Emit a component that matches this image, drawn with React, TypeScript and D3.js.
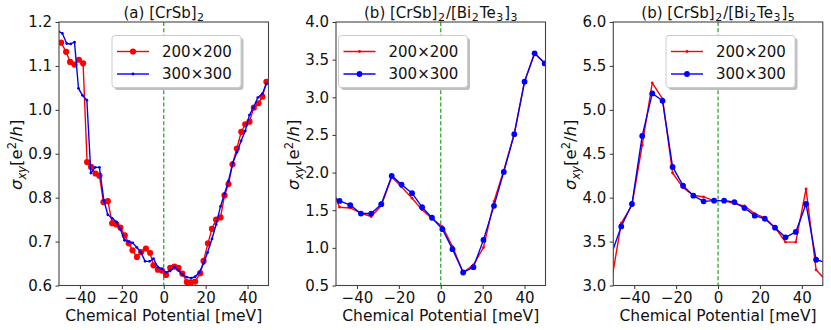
import React, { useEffect, useRef } from 'react';
import * as d3 from 'd3';

// (a) [CrSb]2
const potA200 = [-49.0, -46.6, -44.7, -42.6, -40.5, -38.5, -36.6, -34.7, -32.6, -30.7, -28.8, -26.7, -24.6, -22.6, -20.7, -18.6, -16.7, -14.9, -12.8, -10.8, -8.5, -6.5, -4.9, -2.8, -0.9, 1.1, 3.1, 5.1, 7.0, 8.9, 11.0, 12.9, 15.0, 17.4, 19.0, 21.1, 23.0, 25.0, 27.1, 29.0, 30.9, 32.8, 34.9, 37.0, 38.9, 40.9, 43.0, 45.2, 47.1, 49.0];
const sigA200 = [1.153, 1.132, 1.109, 1.103, 1.114, 1.106, 0.881, 0.870, 0.855, 0.850, 0.790, 0.792, 0.742, 0.739, 0.732, 0.714, 0.696, 0.680, 0.665, 0.676, 0.684, 0.674, 0.646, 0.636, 0.634, 0.624, 0.640, 0.643, 0.640, 0.627, 0.608, 0.607, 0.609, 0.628, 0.656, 0.696, 0.729, 0.750, 0.755, 0.805, 0.831, 0.876, 0.912, 0.950, 0.967, 0.973, 1.005, 1.015, 1.030, 1.064];
const potA300 = [-50.4, -48.4, -46.3, -44.4, -42.6, -40.7, -38.8, -36.7, -34.8, -32.7, -30.7, -28.6, -26.7, -24.6, -22.6, -20.7, -18.7, -16.7, -14.8, -12.9, -10.9, -8.9, -6.8, -4.9, -2.8, -0.9, 1.1, 3.0, 5.1, 7.0, 9.1, 11.0, 13.1, 15.0, 17.0, 19.0, 20.9, 23.0, 25.0, 27.1, 29.0, 30.9, 33.0, 35.0, 36.9, 38.9, 40.9, 42.8, 44.9, 47.0, 49.0];
const sigA300 = [1.179, 1.174, 1.151, 1.150, 1.154, 1.049, 1.033, 1.022, 0.856, 0.869, 0.869, 0.794, 0.761, 0.753, 0.745, 0.728, 0.703, 0.700, 0.697, 0.687, 0.676, 0.655, 0.655, 0.661, 0.642, 0.638, 0.630, 0.633, 0.642, 0.634, 0.624, 0.619, 0.617, 0.620, 0.630, 0.650, 0.675, 0.706, 0.739, 0.780, 0.809, 0.838, 0.880, 0.904, 0.929, 0.952, 0.988, 1.005, 1.028, 1.036, 1.059];

// (b) [CrSb]2/[Bi2Te3]3
const potB = [-53.2, -48.3, -43.2, -38.1, -33.2, -28.4, -23.4, -18.7, -13.7, -8.9, -4.2, 0.8, 5.6, 10.7, 15.6, 20.4, 25.4, 30.1, 35.1, 40.0, 44.8, 49.6];
const sigB200 = [1.87, 1.54, 1.53, 1.46, 1.416, 1.56, 1.94, 1.81, 1.66, 1.505, 1.39, 1.283, 1.018, 0.673, 0.775, 1.005, 1.615, 2.03, 2.52, 3.21, 3.584, 3.46];
const sigB300 = [1.713, 1.624, 1.567, 1.456, 1.456, 1.58, 1.956, 1.84, 1.726, 1.54, 1.40, 1.248, 0.983, 0.673, 0.744, 1.106, 1.558, 2.009, 2.51, 3.208, 3.584, 3.45];

// (b) [CrSb]2/[Bi2Te3]5
const potC = [-51.1, -46.2, -41.1, -36.2, -31.4, -26.5, -21.7, -16.7, -11.8, -6.9, -1.9, 2.9, 7.8, 12.6, 17.5, 22.3, 27.2, 32.2, 37.1, 42.0, 46.8, 51.7];
const sigC200 = [3.015, 3.711, 3.913, 4.597, 5.308, 5.125, 4.281, 4.114, 4.027, 4.008, 3.966, 3.966, 3.932, 3.905, 3.818, 3.772, 3.658, 3.494, 3.494, 4.099, 3.179, 3.05];
const sigC300 = [3.345, 3.673, 3.928, 4.703, 5.187, 5.103, 4.35, 4.137, 4.023, 3.958, 3.966, 3.966, 3.95, 3.882, 3.795, 3.76, 3.658, 3.548, 3.61, 3.928, 3.293, 3.258];

const xTicks = [-40, -20, 0, 20, 40];
const yTicksA = [0.6, 0.7, 0.8, 0.9, 1.0, 1.1, 1.2];
const yTicksB = [0.5, 1.0, 1.5, 2.0, 2.5, 3.0, 3.5, 4.0];
const yTicksC = [3.0, 3.5, 4.0, 4.5, 5.0, 5.5, 6.0];
const legendLabels = ['200×200', '300×300'];

const FONT = 'DejaVu Sans, sans-serif';
const RED = '#ff0000';
const BLUE = '#0000ff';

const panels = [
  {
    id: 'a', left: 59, yDomain: [0.6, 1.2], yTicks: yTicksA,
    title: [['(a) [CrSb]', 0], ['2', 1]],
    series: [
      { xs: potA200, ys: sigA200, color: RED, r: 3.1 },
      { xs: potA300, ys: sigA300, color: BLUE, r: 1.4 },
    ],
    legendX: 112,
  },
  {
    id: 'b', left: 336, yDomain: [0.5, 4.0], yTicks: yTicksB,
    title: [['(b) [CrSb]', 0], ['2', 1], ['/[Bi', 0], ['2', 1], ['Te', 0], ['3', 1], [']', 0], ['3', 1]],
    series: [
      { xs: potB, ys: sigB200, color: RED, r: 1.4 },
      { xs: potB, ys: sigB300, color: BLUE, r: 2.9 },
    ],
    legendX: 338.5,
  },
  {
    id: 'c', left: 613.3, yDomain: [3.0, 6.0], yTicks: yTicksC,
    title: [['(b) [CrSb]', 0], ['2', 1], ['/[Bi', 0], ['2', 1], ['Te', 0], ['3', 1], [']', 0], ['5', 1]],
    series: [
      { xs: potC, ys: sigC200, color: RED, r: 1.4 },
      { xs: potC, ys: sigC300, color: BLUE, r: 2.9 },
    ],
    legendX: 666,
  },
];

const PW = 209.5;
const TOP = 22;
const BOTTOM = 285.5;

function drawPanel(root, p) {
  const x = d3.scaleLinear().domain([-50, 50]).range([p.left, p.left + PW]);
  const y = d3.scaleLinear().domain(p.yDomain).range([BOTTOM, TOP]);
  const g = root.append('g');

  g.append('clipPath').attr('id', 'clip-' + p.id)
    .append('rect').attr('x', p.left).attr('y', TOP).attr('width', PW).attr('height', BOTTOM - TOP);

  // zero line
  g.append('line')
    .attr('x1', x(0)).attr('x2', x(0)).attr('y1', TOP).attr('y2', BOTTOM)
    .attr('stroke', '#22a022').attr('stroke-width', 1.2).attr('stroke-dasharray', '4,2.2');

  const plot = g.append('g').attr('clip-path', `url(#clip-${p.id})`);
  p.series.forEach(s => {
    const pts = s.xs.map((v, i) => [v, s.ys[i]]);
    const line = d3.line().x(d => x(d[0])).y(d => y(d[1]));
    plot.append('path').attr('d', line(pts))
      .attr('fill', 'none').attr('stroke', s.color).attr('stroke-width', 1.4)
      .attr('stroke-linejoin', 'round');
    plot.selectAll(null).data(pts).enter().append('circle')
      .attr('cx', d => x(d[0])).attr('cy', d => y(d[1]))
      .attr('r', s.r).attr('fill', s.color);
  });

  // axes
  const fmtY = d3.format('.1f');
  const xa = g.append('g').attr('transform', `translate(0,${BOTTOM})`)
    .call(d3.axisBottom(x).tickValues(xTicks).tickSize(3.5).tickPadding(3.5).tickFormat(d3.format('d')));
  const ya = g.append('g').attr('transform', `translate(${p.left},0)`)
    .call(d3.axisLeft(y).tickValues(p.yTicks).tickSize(3.5).tickPadding(3.5).tickFormat(fmtY));
  [xa, ya].forEach(a => {
    a.select('.domain').remove();
    a.attr('font-size', 15).attr('font-family', FONT);
    a.selectAll('line').attr('stroke', '#333').attr('stroke-width', 1);
    a.selectAll('text').attr('fill', '#111');
  });

  g.append('rect').attr('x', p.left).attr('y', TOP).attr('width', PW).attr('height', BOTTOM - TOP)
    .attr('fill', 'none').attr('stroke', '#444').attr('stroke-width', 1.1);

  // title
  const t = g.append('text').attr('x', p.left + PW / 2).attr('y', 18)
    .attr('text-anchor', 'middle').attr('font-family', FONT).attr('font-size', 15).attr('fill', '#111');
  let sub = false;
  p.title.forEach(([txt, isSub]) => {
    const ts = t.append('tspan').text(txt);
    if (isSub && !sub) { ts.attr('dy', 3).attr('dx', 0.5).attr('font-size', 11); sub = true; }
    else if (isSub) { ts.attr('font-size', 11); }
    else if (!isSub && sub) { ts.attr('dy', -3).attr('dx', 1); sub = false; }
  });

  // x label
  g.append('text').attr('x', p.left + PW / 2).attr('y', 321)
    .attr('text-anchor', 'middle').attr('font-family', FONT).attr('font-size', 15.5).attr('fill', '#111')
    .text('Chemical Potential [meV]');

  // y label
  const yl = g.append('text')
    .attr('transform', `translate(${p.left - 37},${(TOP + BOTTOM) / 2 + 1}) rotate(-90)`)
    .attr('text-anchor', 'middle').attr('font-family', FONT).attr('font-size', 16.5).attr('fill', '#111');
  yl.append('tspan').attr('font-style', 'italic').text('σ');
  yl.append('tspan').attr('font-style', 'italic').attr('font-size', 11.5).attr('dy', 3.8).text('xy');
  yl.append('tspan').attr('dy', -3.8).text('[e');
  yl.append('tspan').attr('font-size', 11.5).attr('dy', -6.5).text('2');
  yl.append('tspan').attr('dy', 6.5).text('/');
  yl.append('tspan').attr('font-style', 'italic').text('h');
  yl.append('tspan').text(']');

  // legend
  const lx = p.legendX, ly = 35.5, lw = 129, lh = 52;
  g.append('rect').attr('x', lx + 2.5).attr('y', ly + 2.5).attr('width', lw).attr('height', lh)
    .attr('rx', 3).attr('fill', '#000').attr('opacity', 0.25);
  g.append('rect').attr('x', lx).attr('y', ly).attr('width', lw).attr('height', lh)
    .attr('rx', 3).attr('fill', '#fff').attr('stroke', '#ccc').attr('stroke-width', 1);
  p.series.forEach((s, i) => {
    const ry = 51.5 + i * 22.5;
    g.append('line').attr('x1', lx + 5).attr('x2', lx + 37).attr('y1', ry).attr('y2', ry)
      .attr('stroke', s.color).attr('stroke-width', 1.4);
    g.append('circle').attr('cx', lx + 21).attr('cy', ry).attr('r', s.r).attr('fill', s.color);
    g.append('text').attr('x', lx + 50).attr('y', ry).attr('dy', '0.36em')
      .attr('font-family', FONT).attr('font-size', 15).attr('fill', '#111')
      .text(legendLabels[i]);
  });
}

const App = () => {
  const ref = useRef(null);

  useEffect(() => {
    const svg = d3.select(ref.current);
    svg.selectAll('*').remove();
    svg.append('rect').attr('width', 831).attr('height', 330).attr('fill', '#fff');
    panels.forEach(p => drawPanel(svg, p));
  }, []);

  return (
    <svg ref={ref} width={831} height={330}
      style={{ position: 'absolute', left: 0, top: 0, display: 'block' }} />
  );
};

export default App;
